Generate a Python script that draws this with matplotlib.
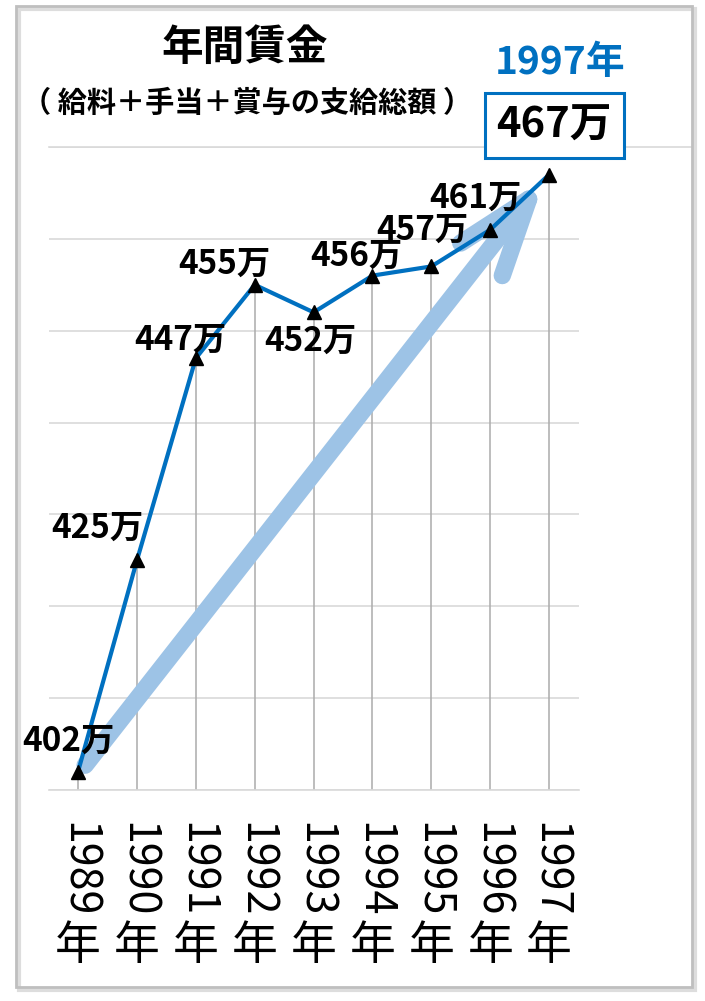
import matplotlib
matplotlib.use("Agg")
import matplotlib.pyplot as plt
from matplotlib.patches import Rectangle

plt.rcParams['font.family'] = ['Noto Sans CJK JP', 'DejaVu Sans']

# data
years = ['1989', '1990', '1991', '1992', '1993', '1994', '1995', '1996', '1997']
wages = [402, 425, 447, 455, 452, 456, 457, 461, 467]
labels = [f"{w}万" for w in wages]

title = '年間賃金'
subtitle = '（ 給料＋手当＋賞与の支給総額 ）'

# label offsets from each point, in pixels (styling only)
label_offsets = [(-10, 30), (-40, 32), (-15, 18), (-30, 21), (-3, -29),
                 (-16, 19), (-9, 36), (-15, 31)]

BLUE = '#0070C0'
ARROW = '#9DC3E6'
GRID = '#D9D9D9'
DROP = '#ABABAB'

fig = plt.figure(figsize=(7.05, 10.01), dpi=100)
ax = fig.add_axes([48.6 / 705, 1 - 790 / 1001, 530 / 705, 643 / 1001])

x = list(range(len(years)))
ax.set_xlim(-0.5, len(years) - 0.5)
ax.set_ylim(400, 470)
ax.set_yticks(range(400, 471, 10))
ax.set_xticks(x)
ax.set_xticklabels([])
ax.set_yticklabels([])
ax.tick_params(length=0)
for s in ['left', 'right', 'top']:
    ax.spines[s].set_visible(False)
ax.spines['bottom'].set_color(GRID)
ax.spines['bottom'].set_linewidth(1.2)
ax.yaxis.grid(True, color=GRID, lw=1.2, zorder=0)
ax.set_axisbelow(True)

# top gridline runs out to the frame
ax.axhline(470, xmin=0, xmax=(692 - 48.6) / 530, color=GRID, lw=1.2, clip_on=False, zorder=0)

# drop lines
ax.vlines(x, 400, wages, color=DROP, lw=1.1, zorder=1)

# big trend arrow
ax.annotate('', xy=(x[-1] - 0.07, wages[-1] - 0.4), xytext=(x[0] + 0.12, wages[0] + 0.7),
            arrowprops=dict(arrowstyle='->,head_length=5.5,head_width=1.9', color=ARROW,
                            lw=12.5, shrinkA=0, shrinkB=0, mutation_scale=10,
                            capstyle='round', joinstyle='round'),
            zorder=2)

ax.plot(x, wages, color=BLUE, lw=3, zorder=3, solid_capstyle='round')
ax.plot(x, wages, ls='none', marker='^', color='black', ms=10, zorder=4)

for i, (lab, off) in enumerate(zip(labels[:-1], label_offsets)):
    ax.annotate(lab, (x[i], wages[i]), xytext=off, textcoords='offset pixels',
                ha='center', va='center', fontsize=24, fontweight='bold', zorder=5)

# highlighted last value
ax.annotate(labels[-1], (x[-1], wages[-1]), xytext=(5, 49), textcoords='offset pixels',
            ha='center', va='center', fontsize=30, fontweight='bold', zorder=6,
            bbox=dict(boxstyle='square,pad=0.28', fc='white', ec=BLUE, lw=2.2))
ax.annotate(years[-1] + '年', (x[-1], wages[-1]), xytext=(11, 112), textcoords='offset pixels',
            ha='center', va='center', fontsize=28, fontweight='bold', color=BLUE, zorder=6)

# vertical style x labels: digits rotated, 年 upright
tr = ax.get_xaxis_transform()
for i, y in enumerate(years):
    ax.text(i, -32 / 643, y, transform=tr, rotation=-90, ha='center', va='top', fontsize=31)
    ax.text(i, -156 / 643, '年', transform=tr, ha='center', va='center', fontsize=33)

fig.text(245 / 705, 1 - 48 / 1001, title, ha='center', va='center', fontsize=30, fontweight='bold')
fig.text(247 / 705, 1 - 103 / 1001, subtitle, ha='center', va='center', fontsize=21, fontweight='bold')

# frame with a soft shadow
fx0, fy0 = 16 / 705, 1 - 987 / 1001
fw, fh = (692 - 16) / 705, (987 - 6) / 1001
fig.add_artist(Rectangle((fx0 + 3 / 705, fy0 - 3 / 1001), fw, fh, transform=fig.transFigure,
                         fill=False, ec='#DDDDDD', lw=3))
fig.add_artist(Rectangle((fx0, fy0), fw, fh, transform=fig.transFigure,
                         fill=False, ec='#BFBFBF', lw=2))

fig.savefig('out.png', dpi=100, facecolor='white')
